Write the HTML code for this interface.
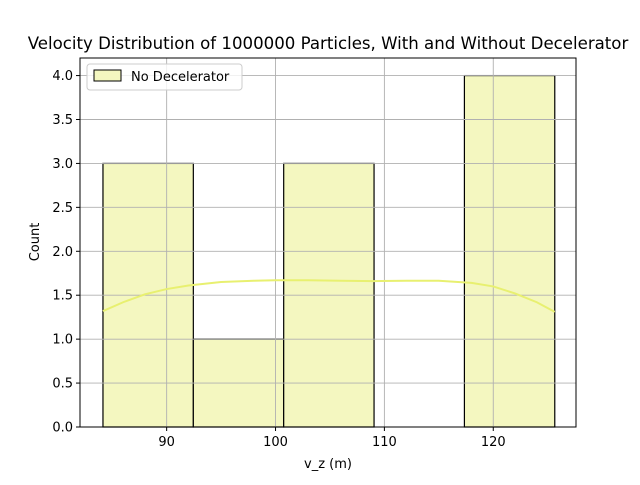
<!DOCTYPE html>
<html><head><meta charset="utf-8"><style>
body{margin:0;background:#fff;font-family:"Liberation Sans","DejaVu Sans",sans-serif}
</style></head><body>
<svg id="chart" width="640" height="480" xmlns="http://www.w3.org/2000/svg" font-family="DejaVu Sans, Liberation Sans, sans-serif">
<rect width="640" height="480" fill="#fff"/>
<text x="328" y="49" text-anchor="middle" font-size="16.6">Velocity Distribution of 1000000 Particles, With and Without Decelerator</text>
<g id="bars"></g><g id="grid"></g><g id="kde"></g><g id="axes"></g>
<text x="328" y="468" text-anchor="middle" font-size="13">v_z (m)</text>
<text transform="translate(39,242) rotate(-90)" text-anchor="middle" font-size="13">Count</text>
<g>
<rect x="87" y="64" width="155" height="26" rx="3" fill="#fff" fill-opacity="0.8" stroke="#ccc"/>
<rect x="94" y="70" width="27" height="11" fill="#f4f7c0" stroke="#000"/>
<text x="131" y="81" font-size="13">No Decelerator</text>
</g>
</svg>
<script>
const binEdges=[84.15,92.45,100.75,109.05,117.35,125.65];
const counts=[3,1,3,0,4];
const kdeX=[84.15,86,88,90,92,95,98,100,103,106,109,112,115,118,120,122,124,125.65];
const kdeY=[1.32,1.42,1.51,1.57,1.61,1.65,1.665,1.67,1.67,1.665,1.66,1.665,1.665,1.64,1.6,1.52,1.42,1.31];
const xTicks=[90,100,110,120];
const yTicks=[0,0.5,1,1.5,2,2.5,3,3.5,4];
const L=80,R=576,T=58,B=427,xmin=82.04,xmax=127.6,ymax=4.2;
const sx=v=>L+(v-xmin)/(xmax-xmin)*(R-L);
const sy=v=>B-v/ymax*(B-T);
const NS="http://www.w3.org/2000/svg";
function mk(t,a,p){const e=document.createElementNS(NS,t);for(const k in a)e.setAttribute(k,a[k]);p.appendChild(e);return e;}
const bars=document.getElementById('bars'),grid=document.getElementById('grid'),kde=document.getElementById('kde'),axes=document.getElementById('axes');
counts.forEach((c,i)=>{if(c<=0)return;const x0=sx(binEdges[i]),x1=sx(binEdges[i+1]);
const r=mk('rect',{x:x0,y:sy(c),width:x1-x0,height:sy(0)-sy(c),fill:'#f4f7c0',stroke:'#000','stroke-width':1.2},bars);

});
xTicks.forEach(t=>{const x=sx(t);
const g=mk('line',{x1:x,x2:x,y1:T,y2:B,stroke:'#b0b0b0','stroke-width':0.9},grid);


mk('line',{x1:x,x2:x,y1:B,y2:B+4,stroke:'#000'},axes);
const tx=mk('text',{x:x,y:B+19,'text-anchor':'middle','font-size':13},axes);tx.textContent=t;

});
yTicks.forEach(t=>{const y=sy(t);
const g=mk('line',{x1:L,x2:R,y1:y,y2:y,stroke:'#b0b0b0','stroke-width':0.9},grid);


mk('line',{x1:L-4,x2:L,y1:y,y2:y,stroke:'#000'},axes);
const tx=mk('text',{x:L-7,y:y+4.5,'text-anchor':'end','font-size':13},axes);tx.textContent=t.toFixed(1);

});
const pl=mk('polyline',{points:kdeX.map((x,i)=>sx(x)+','+sy(kdeY[i])).join(' '),fill:'none',stroke:'#e8f070','stroke-width':2},kde);


const fr=mk('rect',{x:L,y:T,width:R-L,height:B-T,fill:'none',stroke:'#000','stroke-width':1},axes);


</script>
</body></html>
